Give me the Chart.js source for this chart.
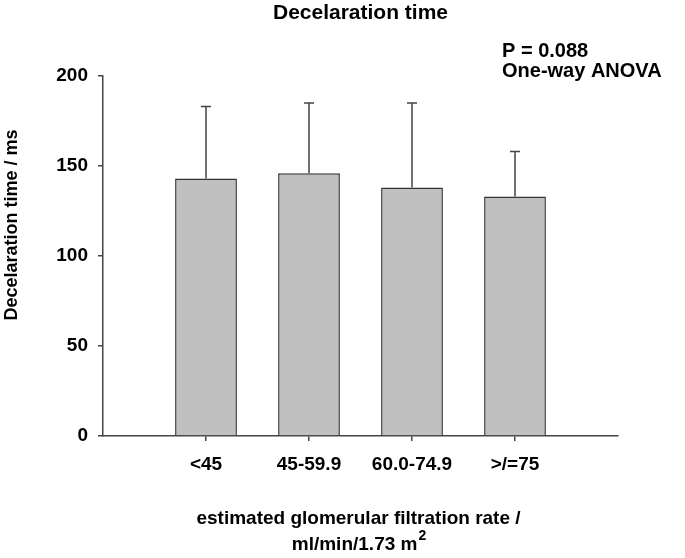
<!DOCTYPE html>
<html>
<head>
<meta charset="utf-8">
<script src="https://cdn.jsdelivr.net/npm/chart.js@4"></script>
<style>
  body { margin: 0; background: #fff; }
  #wrap { width: 685px; height: 558px; }
</style>
</head>
<body>
<div id="wrap"><canvas id="chart"></canvas></div>
<script>
const categories = ["<45", "45-59.9", "60.0-74.9", ">/=75"];
const means = [143, 146, 138, 133];
const upperError = [183, 185, 185, 158];
const yTicks = [0, 50, 100, 150, 200];

const font = "'Liberation Sans', Arial, sans-serif";
const axisColor = "#444";

// upper error bars with caps
const errorBars = {
  id: "errorBars",
  afterDatasetsDraw(chart) {
    const { ctx, scales: { x, y } } = chart;
    ctx.save();
    ctx.strokeStyle = "#444";
    ctx.lineWidth = 1.5;
    means.forEach((m, i) => {
      const px = x.getPixelForValue(i + 1);
      const top = y.getPixelForValue(upperError[i]);
      ctx.beginPath();
      ctx.moveTo(px, y.getPixelForValue(m));
      ctx.lineTo(px, top);
      ctx.moveTo(px - 5, top);
      ctx.lineTo(px + 5, top);
      ctx.stroke();
    });
    ctx.restore();
  }
};

// title, annotation and axis titles
const texts = {
  id: "texts",
  afterDraw(chart) {
    const { ctx, chartArea } = chart;
    const cx = (chartArea.left + chartArea.right) / 2;
    ctx.save();
    ctx.fillStyle = "#000";
    ctx.textBaseline = "middle";
    ctx.font = "bold 21px " + font;
    ctx.textAlign = "center";
    ctx.fillText("Decelaration time", cx, 13);

    ctx.font = "bold 20px " + font;
    ctx.textAlign = "left";
    ctx.fillText("P = 0.088", 502, 51);
    ctx.fillText("One-way ANOVA", 502, 71);

    ctx.textAlign = "center";
    ctx.font = "bold 19px " + font;
    ctx.fillText("estimated glomerular filtration rate /", cx - 2, 519);
    const line2 = "ml/min/1.73 m";
    const w = ctx.measureText(line2).width;
    ctx.font = "bold 14px " + font;
    const sw = ctx.measureText("2").width;
    const start = cx - 2 - (w + sw) / 2;
    ctx.font = "bold 19px " + font;
    ctx.textAlign = "left";
    ctx.fillText(line2, start, 545);
    ctx.font = "bold 14px " + font;
    ctx.fillText("2", start + w + 1, 536);

    ctx.translate(12, 225);
    ctx.rotate(-Math.PI / 2);
    ctx.textAlign = "center";
    ctx.font = "bold 18px " + font;
    ctx.fillText("Decelaration time / ms", 0, 0);
    ctx.restore();
  }
};

new Chart(document.getElementById("chart"), {
  type: "bar",
  data: {
    datasets: [{
      data: means.map((v, i) => ({ x: i + 1, y: v })),
      backgroundColor: "#c0c0c0",
      borderColor: "#333",
      borderWidth: 1.5,
      barPercentage: 0.6,
      categoryPercentage: 1.0
    }]
  },
  options: {
    responsive: true,
    maintainAspectRatio: false,
    animation: false,
    layout: { padding: { top: 76, right: 67, left: 0, bottom: 0 } },
    plugins: { legend: { display: false }, tooltip: { enabled: false } },
    scales: {
      x: {
        type: "linear",
        offset: false,
        min: 0,
        max: 5,
        afterBuildTicks: (s) => { s.ticks = categories.map((c, i) => ({ value: i + 1 })); },
        afterFit: (s) => { s.height = 122; },
        grid: { offset: false, drawOnChartArea: false, drawTicks: true, tickLength: 5, color: axisColor, lineWidth: 1.5 },
        border: { display: true, color: axisColor, width: 1.5 },
        ticks: {
          padding: 12,
          maxRotation: 0,
          color: "#000",
          font: { family: font, size: 19, weight: "bold" },
          callback: (v) => categories[v - 1]
        }
      },
      y: {
        min: 0,
        max: 200,
        afterBuildTicks: (s) => { s.ticks = yTicks.map(v => ({ value: v })); },
        afterFit: (s) => { s.width = 103; },
        grid: { drawOnChartArea: false, drawTicks: true, tickLength: 5, color: axisColor, lineWidth: 1.5 },
        border: { display: true, color: axisColor, width: 1.5 },
        ticks: {
          padding: 10,
          color: "#000",
          font: { family: font, size: 19, weight: "bold" }
        }
      }
    }
  },
  plugins: [errorBars, texts]
});
</script>
</body>
</html>
